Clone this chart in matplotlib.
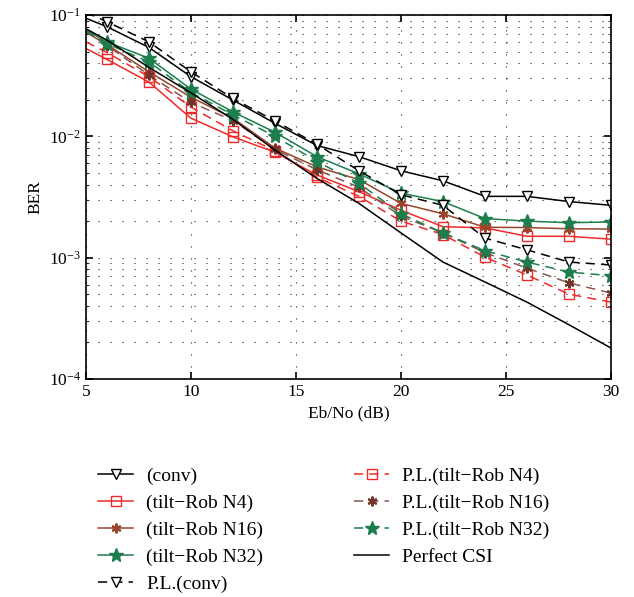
import numpy as np
import matplotlib
matplotlib.use("Agg")
import matplotlib.pyplot as plt
from matplotlib.ticker import MultipleLocator, LogLocator, NullFormatter

plt.rcParams['font.family'] = 'Liberation Serif'
plt.rcParams['mathtext.fontset'] = 'stix'
plt.rcParams['font.size'] = 11.5

ebno = [5, 6, 8, 10, 12, 14, 16, 18, 20, 22, 24, 26, 28, 30]

conv = [0.094, 0.080, 0.054, 0.031, 0.0199, 0.0128, 0.0084, 0.0068, 0.0052, 0.0043, 0.0032, 0.0032, 0.0029, 0.0027]
rob_n4 = [0.053, 0.043, 0.028, 0.0141, 0.0099, 0.0074, 0.0048, 0.0035, 0.00246, 0.0018, 0.00176, 0.0015, 0.0015, 0.00142]
rob_n16 = [0.072, 0.057, 0.034, 0.021, 0.0141, 0.0080, 0.0056, 0.0044, 0.0028, 0.0023, 0.00178, 0.00177, 0.00173, 0.00172]
rob_n32 = [0.075, 0.060, 0.044, 0.0245, 0.0159, 0.0108, 0.0068, 0.0049, 0.0034, 0.0029, 0.0021, 0.0020, 0.00194, 0.00197]
pl_conv = [0.105, 0.088, 0.060, 0.034, 0.0205, 0.0134, 0.0086, 0.0052, 0.0033, 0.0027, 0.00145, 0.00116, 0.00092, 0.00087]
pl_n4 = [0.060, 0.049, 0.031, 0.0174, 0.0111, 0.0076, 0.0046, 0.0032, 0.0020, 0.00155, 0.00101, 0.00072, 0.00050, 0.00043]
pl_n16 = [0.073, 0.056, 0.032, 0.019, 0.0135, 0.0078, 0.0053, 0.0038, 0.0022, 0.0016, 0.0011, 0.00082, 0.00062, 0.00051]
pl_n32 = [0.074, 0.058, 0.041, 0.023, 0.015, 0.0100, 0.0062, 0.0041, 0.0023, 0.0016, 0.00114, 0.00092, 0.00076, 0.00071]
perfect_csi = [0.077, 0.062, 0.037, 0.0228, 0.0138, 0.0077, 0.0045, 0.0028, 0.0016, 0.00092, 0.00063, 0.00043, 0.00028, 0.00018]

red = '#f02a2a'
brown = '#98452c'
mauve = '#85564f'
green = '#1d7d4c'
asterisk = (6, 2, 0)

fig = plt.figure(figsize=(6.34, 5.97), dpi=100)
ax = fig.add_axes([0.1356, 0.3652, 0.828, 0.6097])

mk = list(range(1, len(ebno)))
dash = (0, (6, 4))
lw = 1.1

ax.plot(ebno, conv, color='black', lw=lw, marker='v', mfc='white', mec='black', ms=7.5, markevery=mk, label='(conv)')
ax.plot(ebno, rob_n4, color=red, lw=lw, marker='s', mfc='none', mec=red, ms=6.5, markevery=mk, label='(tilt\u2212Rob N4)')
ax.plot(ebno, rob_n16, color=brown, lw=lw, marker=asterisk, mec=brown, mew=1.5, ms=7, markevery=mk, label='(tilt\u2212Rob N16)')
ax.plot(ebno, rob_n32, color=green, lw=lw, marker='*', mfc=green, mec=green, ms=10, markevery=mk, label='(tilt\u2212Rob N32)')
ax.plot(ebno, pl_conv, color='black', lw=lw, ls=dash, marker='v', mfc='white', mec='black', ms=7.5, markevery=mk, label='P.L.(conv)')
ax.plot(ebno, pl_n4, color=red, lw=lw, ls=dash, marker='s', mfc='none', mec=red, ms=6.5, markevery=mk, label='P.L.(tilt\u2212Rob N4)')
ax.plot(ebno, pl_n16, color=mauve, lw=lw, ls=dash, marker=asterisk, mec='#6e3528', mew=1.5, ms=7, markevery=mk, label='P.L.(tilt\u2212Rob N16)')
ax.plot(ebno, pl_n32, color=green, lw=lw, ls=dash, marker='*', mfc=green, mec=green, ms=10, markevery=mk, label='P.L.(tilt\u2212Rob N32)')
ax.plot(ebno, perfect_csi, color='black', lw=1.1, label='Perfect CSI')

ax.set_yscale('log')
ax.set_xlim(5, 30)
ax.set_ylim(1e-4, 1e-1)
ax.xaxis.set_major_locator(MultipleLocator(5))
ax.yaxis.set_major_locator(LogLocator(base=10))
ax.yaxis.set_minor_locator(LogLocator(base=10, subs=np.arange(2, 10)))
ax.yaxis.set_minor_formatter(NullFormatter())
ax.tick_params(which='major', direction='in', top=True, right=True, length=5, width=1.2, labelsize=12.5)
ax.tick_params(which='minor', direction='in', top=True, right=True, length=2.5)
# dotted grid: x at major ticks only, y at every decade subdivision
ax.grid(True, which='major', axis='x', color='0.15', ls=(0, (1, 9.8)), lw=0.8)
ax.grid(True, which='both', axis='y', color='0.15', ls=(0, (1, 9.8)), lw=0.8)
for s in ax.spines.values():
    s.set_linewidth(1.2)

ax.set_xlabel('Eb/No (dB)', fontsize=12.5)
ax.set_ylabel('BER', fontsize=12.5)

fig.legend(loc='upper left', bbox_to_anchor=(0.127, 0.246), ncol=2, frameon=False,
           fontsize=14, handlelength=1.8, labelspacing=0.47, columnspacing=4.7, handletextpad=0.67)

fig.savefig('out.png', dpi=100)
